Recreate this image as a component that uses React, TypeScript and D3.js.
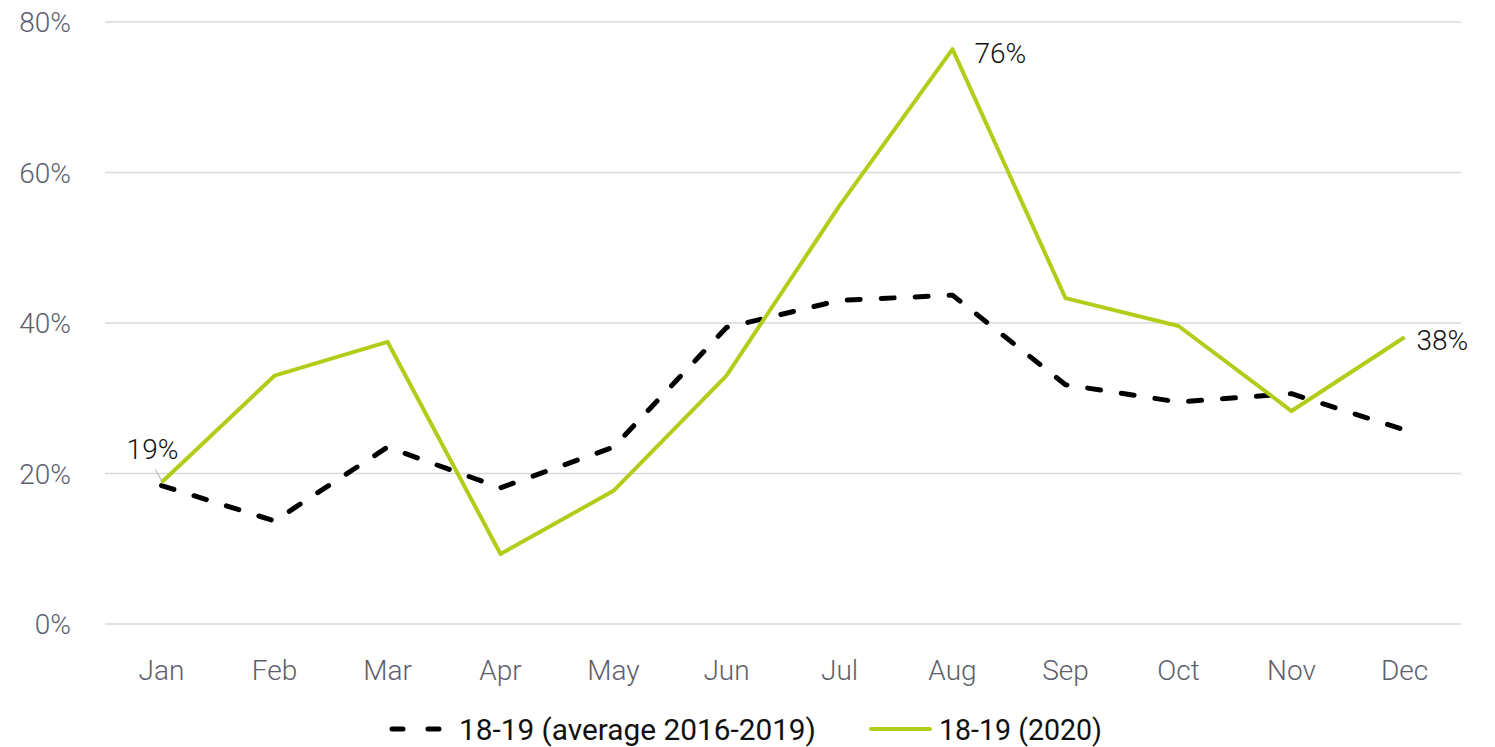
import { useEffect, useRef } from "react";
import * as d3 from "d3";

const months = ["Jan", "Feb", "Mar", "Apr", "May", "Jun", "Jul", "Aug", "Sep", "Oct", "Nov", "Dec"];
const avgValues = [18.4, 13.7, 23.5, 18.1, 23.5, 39.4, 43.0, 43.7, 31.8, 29.5, 30.6, 25.8];
const values2020 = [18.8, 33.0, 37.5, 9.3, 17.7, 33.0, 55.6, 76.4, 43.3, 39.6, 28.3, 38.1];
const yTicks = [0, 20, 40, 60, 80];
const seriesNames = ["18-19 (average 2016-2019)", "18-19 (2020)"];

const width = 1495;
const height = 747;
const marginLeft = 105;
const marginRight = 34;
const marginTop = 22;
const plotBottom = 624;

const green = "#b3cc1a";
const tickColor = "#5e5e6c";
const tickFont = "Roboto, sans-serif";

const App = () => {
  const axisRef = useRef<SVGGElement>(null);

  const xScale = d3
    .scaleBand()
    .domain(months)
    .range([marginLeft, width - marginRight]);

  const yScale = d3.scaleLinear().domain([0, 80]).range([plotBottom, marginTop]);

  const cx = (m: string) => (xScale(m) ?? 0) + xScale.bandwidth() / 2;

  const line = d3
    .line<number>()
    .x((_, i) => cx(months[i]))
    .y((d) => yScale(d));

  useEffect(() => {
    const g = d3.select(axisRef.current);
    g.selectAll("*").remove();
    const xAxis = d3.axisBottom(xScale).tickSize(0).tickPadding(36);
    const gx = g.append("g").attr("transform", `translate(0,${plotBottom})`).call(xAxis);
    gx.select(".domain").remove();
    gx.selectAll("text")
      .attr("font-size", "28px")
      .attr("font-weight", 300)
      .attr("font-family", tickFont)
      .attr("fill", tickColor);
  }, []);

  const lastIdx = months.length - 1;
  const augIdx = 7;

  return (
    <svg width={width} height={height} style={{ display: "block", position: "absolute", left: 0, top: 0 }}>
      {/* grid */}
      <g className="grid">
        {yTicks.map((t) => (
          <line
            key={t}
            x1={marginLeft}
            x2={width - marginRight}
            y1={yScale(t)}
            y2={yScale(t)}
            stroke="#d9d9d9"
            strokeWidth={1.5}
          />
        ))}
      </g>
      <g className="y-labels">
        {yTicks.map((t) => (
          <text
            key={t}
            x={71}
            y={yScale(t) + 10}
            textAnchor="end"
            fontSize={28}
            fontWeight={300}
            fontFamily={tickFont}
            fill={tickColor}
          >
            {t}%
          </text>
        ))}
      </g>
      <g ref={axisRef} className="x-axis" />

      {/* lines */}
      <path
        d={line(avgValues) ?? ""}
        fill="none"
        stroke="#000"
        strokeWidth={5}
        strokeDasharray="13 21"
        strokeLinecap="round"
        strokeLinejoin="round"
      />
      <path
        d={line(values2020) ?? ""}
        fill="none"
        stroke={green}
        strokeWidth={4}
        strokeLinejoin="round"
      />

      {/* data labels */}
      <line
        x1={cx(months[0]) - 6}
        y1={yScale(values2020[0]) - 13}
        x2={cx(months[0])}
        y2={yScale(values2020[0]) - 2}
        stroke="#a6a6a6"
        strokeWidth={1}
      />
      <text x={cx(months[0]) - 9} y={yScale(values2020[0]) - 24} textAnchor="middle" fontSize={28} fontWeight={300} fontFamily={tickFont} fill="#111">
        {Math.round(values2020[0])}%
      </text>
      <text x={cx(months[augIdx]) + 22} y={yScale(values2020[augIdx]) + 14} fontSize={28} fontWeight={300} fontFamily={tickFont} fill="#111">
        {Math.round(values2020[augIdx])}%
      </text>
      <text x={cx(months[lastIdx]) + 12} y={yScale(values2020[lastIdx]) + 13} fontSize={28} fontWeight={300} fontFamily={tickFont} fill="#111">
        {Math.round(values2020[lastIdx])}%
      </text>

      {/* legend */}
      <g className="legend" fontFamily={tickFont} fontSize={29} fill="#111">
        <line x1={392} x2={446} y1={729} y2={729} stroke="#000" strokeWidth={5} strokeDasharray="11 25" strokeLinecap="round" />
        <text x={459} y={740} textLength={357} lengthAdjust="spacingAndGlyphs">{seriesNames[0]}</text>
        <line x1={871} x2={930} y1={729} y2={729} stroke={green} strokeWidth={4} strokeLinecap="round" />
        <text x={939} y={740} textLength={163} lengthAdjust="spacingAndGlyphs">{seriesNames[1]}</text>
      </g>
    </svg>
  );
};

export default App;
